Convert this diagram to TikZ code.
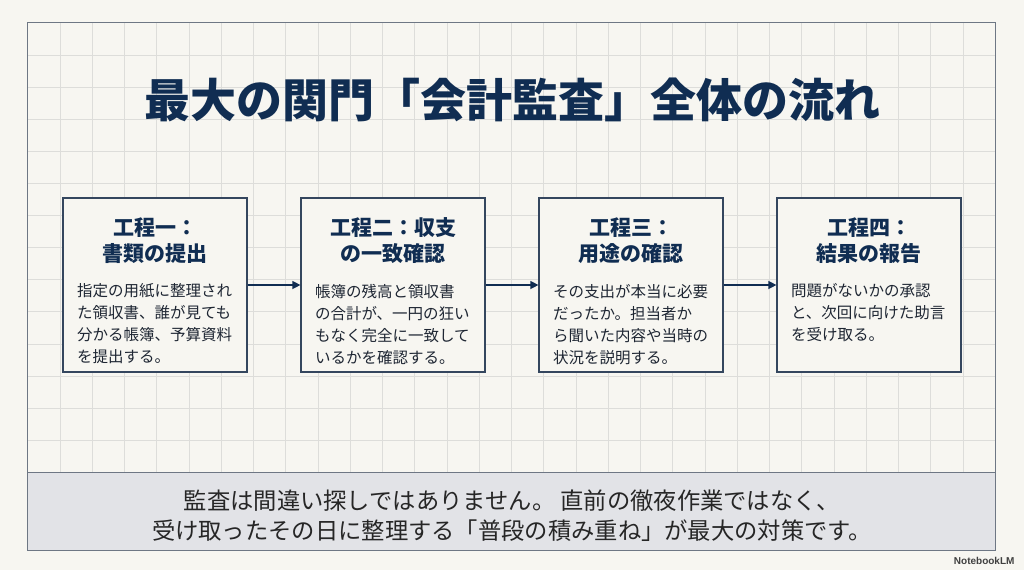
\documentclass[tikz,border=0pt]{standalone}
\usepackage{fontspec}
\usepackage{xcolor}
\usetikzlibrary{positioning, arrows.meta}
\newfontfamily\jp{Noto Sans CJK JP}
\newfontfamily\brandfont{Liberation Sans}
\definecolor{papercol}{HTML}{F7F6F1}
\definecolor{gridcol}{HTML}{DDDDDA}
\definecolor{framecol}{HTML}{6E7784}
\definecolor{navy}{HTML}{102D52}
\definecolor{boxline}{HTML}{34465E}
\definecolor{bandcol}{HTML}{E2E3E7}
\definecolor{inkcol}{HTML}{1E2633}

\tikzset{
  stepbox/.style={draw=boxline, line width=1.2pt, fill=papercol,
                  minimum width=184pt, minimum height=174pt, inner sep=0pt},
  steptitle/.style={text=navy, font=\jp\bfseries\fontsize{21}{26}\selectfont,
                    align=center, inner sep=0pt},
  stepbody/.style={text=inkcol, font=\jp\fontsize{15.5}{22}\selectfont,
                   align=left, text width=156pt, inner sep=0pt},
  flow/.style={draw=navy, line width=1.3pt, -{Triangle[length=8pt,width=8pt]}}
}

\begin{document}
\begin{tikzpicture}[x=1pt, y=-1pt]
    \fill[papercol] (0,0) rectangle (1024,570);
    \useasboundingbox (0,0) rectangle (1024,570);
    % grid paper
    \foreach \i in {1,...,29}
      \draw[gridcol, line width=0.6pt] ({27.7+\i*32.25},22.7) -- ({27.7+\i*32.25},472.3);
    \foreach \j in {1,...,13}
      \draw[gridcol, line width=0.6pt] (27.7,{22.7+\j*32.11}) -- (995.3,{22.7+\j*32.11});
    \fill[bandcol] (27.7,472.3) rectangle (995.3,550);
    \draw[framecol, line width=0.8pt] (27.7,472.3) -- (995.3,472.3);
    \draw[framecol, line width=1pt] (27.7,22.7) rectangle (995.3,550);

    \node[text=navy, font=\jp\bfseries\fontsize{46}{52}\selectfont] (title) at (512,100)
      {最大の関門「会計監査」全体の流れ};

    % the four steps
    \node[stepbox] (step1) at (155,285) {};
    \node[stepbox, right=52.8pt of step1] (step2) {};
    \node[stepbox, right=52.8pt of step2] (step3) {};
    \node[stepbox, right=52.8pt of step3] (step4) {};

    \node[steptitle, below=20pt of step1.north] (step1title) {工程一：\\書類の提出};
    \node[steptitle, below=20pt of step2.north] (step2title) {工程二：収支\\の一致確認};
    \node[steptitle, below=20pt of step3.north] (step3title) {工程三：\\用途の確認};
    \node[steptitle, below=20pt of step4.north] (step4title) {工程四：\\結果の報告};

    \node[stepbody, below=20pt of step1title] (step1text)
      {指定の用紙に整理され\\た領収書、誰が見ても\\分かる帳簿、予算資料\\を提出する。};
    \node[stepbody, below=20pt of step2title] (step2text)
      {帳簿の残高と領収書\\の合計が、一円の狂い\\もなく完全に一致して\\いるかを確認する。};
    \node[stepbody, below=20pt of step3title] (step3text)
      {その支出が本当に必要\\だったか。担当者か\\ら聞いた内容や当時の\\状況を説明する。};
    \node[stepbody, below=20pt of step4title] (step4text)
      {問題がないかの承認\\と、次回に向けた助言\\を受け取る。};

    \draw[flow] (step1) -- (step2);
    \draw[flow] (step2) -- (step3);
    \draw[flow] (step3) -- (step4);

    \node[text=black!85, font=\jp\fontsize{23.3}{30}\selectfont, align=center] (note) at (512,516)
      {監査は間違い探しではありません。 直前の徹夜作業ではなく、\\
       受け取ったその日に整理する「普段の積み重ね」が最大の対策です。};

    \node[anchor=east, text=black!75, font=\brandfont\bfseries\fontsize{10}{10}\selectfont] (brand) at (1018,561) {NotebookLM};
  \end{tikzpicture}
\end{document}
